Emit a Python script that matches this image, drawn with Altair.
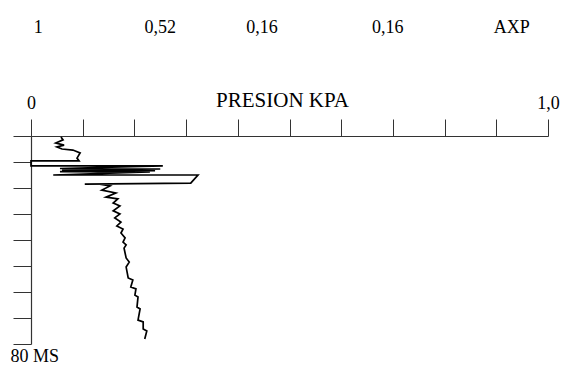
import altair as alt
import pandas as pd

# Pressure trace (kPa) versus time (ms)
pressure = [0.058, 0.062, 0.048, 0.064, 0.050, 0.060, 0.081, 0.095, 0.089, 0.093,
            0.0, 0.0, 0.255, 0.056, 0.250, 0.060, 0.240, 0.056, 0.230,
            0.043, 0.323, 0.309, 0.104, 0.133, 0.153, 0.137, 0.164, 0.145, 0.168,
            0.159, 0.172, 0.159, 0.172, 0.162, 0.174, 0.166, 0.178, 0.174, 0.182,
            0.178, 0.184, 0.180, 0.184, 0.190, 0.184, 0.188, 0.197, 0.193, 0.203,
            0.201, 0.207, 0.205, 0.211, 0.207, 0.217, 0.217, 0.224, 0.220]
time_ms = [0.4, 1.5, 2.7, 3.5, 4.2, 5.0, 5.4, 6.5, 8.5, 9.6,
           9.6, 11.5, 11.5, 12.5, 12.7, 13.1, 13.3, 13.7, 13.8,
           15.0, 15.0, 18.1, 18.5, 18.5, 19.2, 20.8, 21.9, 23.5, 24.2,
           25.8, 26.9, 28.8, 30.0, 31.5, 33.1, 34.6, 35.8, 37.3, 39.2,
           40.8, 41.9, 43.1, 46.9, 48.5, 50.4, 54.6, 55.4, 58.1, 58.8,
           61.2, 61.9, 65.8, 66.5, 70.8, 71.5, 74.2, 75.0, 78.1]

header_labels = ["1", "0,52", "0,16", "0,16", "AXP"]
header_pos = [0.014, 0.25, 0.447, 0.69, 0.93]

x_ticks = [i / 10 for i in range(11)]
y_ticks = [i * 10 for i in range(9)]

FONT = "Liberation Serif"

df = pd.DataFrame({"p": pressure, "t": time_ms, "i": list(range(len(pressure)))})
hdr = pd.DataFrame({"label": header_labels, "p": header_pos})

xscale = alt.Scale(domain=[0, 1], nice=False, zero=False)
yscale = alt.Scale(domain=[0, 80], nice=False, reverse=True)

x_axis = alt.Axis(orient="top", values=x_ticks, tickSize=17,
                  labelExpr="datum.value == 0 ? '0' : (datum.value == 1 ? '1,0' : '')",
                  labelFlush=False, labelBaseline="middle", labelPadding=16,
                  title="PRESION KPA", titleFontSize=21, titleX=251, titleY=-36,
                  titleAlign="center", titleBaseline="middle")

line = alt.Chart(df).mark_line(color="black", strokeWidth=1.7, clip=False).encode(
    x=alt.X("p:Q", scale=xscale, axis=x_axis),
    y=alt.Y("t:Q", scale=yscale,
            axis=alt.Axis(orient="left", values=y_ticks, tickSize=18,
                          labelExpr="datum.value == 80 ? '80 MS' : ''",
                          labelAlign="left", labelBaseline="top", labelPadding=3,
                          labelOffset=3, title=None)),
    order="i:Q",
)

header = alt.Chart(hdr).mark_text(font=FONT, fontSize=18, baseline="middle",
                                  align="center", color="black").encode(
    x=alt.X("p:Q", scale=xscale, axis=x_axis),
    y=alt.value(-108),
    text="label:N",
)

chart = alt.layer(line, header).properties(
    width=517, height=208,
    padding={"left": 31, "top": 136, "right": 21, "bottom": 25},
    autosize="none",
).configure_view(stroke=None).configure_axis(
    domainColor="#333333", tickColor="#333333", domainWidth=1.2, tickWidth=1,
    labelFont=FONT, titleFont=FONT, labelFontSize=18, titleFontSize=21,
    labelColor="black", titleColor="black", titleFontWeight="normal", grid=False,
)

chart.save("out.html", embed_options={"renderer": "svg", "actions": False})
